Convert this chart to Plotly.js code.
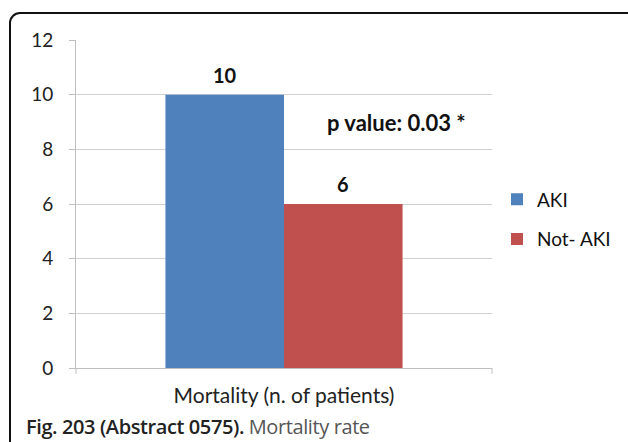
<!DOCTYPE html>
<html><head><meta charset="utf-8">
<script src="https://cdn.plot.ly/plotly-3.0.1.min.js"></script>
<style>
html,body{margin:0;padding:0;background:#fff;}
#wrap{position:relative;width:628px;height:442px;overflow:hidden;}
#chart{width:628px;height:442px;}
#frame{position:absolute;left:9px;top:12px;width:700px;height:500px;border:2px solid #111;border-radius:11px;pointer-events:none;box-sizing:border-box;}
#cap{position:absolute;left:26px;top:413px;font-family:"Open Sans",sans-serif;font-size:20px;color:#555;white-space:nowrap;letter-spacing:-0.4px;}
#cap b{color:#222;font-weight:600;}
</style></head>
<body><div id="wrap"><div id="chart"></div><div id="frame"></div>
<div id="cap"><b>Fig. 203 (Abstract 0575).</b> Mortality rate</div></div>
<script>
var categories = ["Mortality (n. of patients)"];
var seriesNames = ["AKI", "Not- AKI"];
var akiValues = [10];
var notAkiValues = [6];
var yTicks = [0, 2, 4, 6, 8, 10, 12];
var pValueText = "p value: 0.03 *";

var font = "Lato, 'Open Sans', sans-serif";
var traces = [
  {type:"bar", name:seriesNames[0], x:categories, y:akiValues, marker:{color:"#4F81BD"}, legendgroup:"a", hoverinfo:"none"},
  {type:"bar", name:seriesNames[1], x:categories, y:notAkiValues, marker:{color:"#C0504D"}, legendgroup:"b", hoverinfo:"none"}
];
var annotations = [];
[akiValues, notAkiValues].forEach(function(vals, i){
  vals.forEach(function(v, j){
    annotations.push({x:categories[j], y:v, xref:"x", yref:"y", text:"<b>"+v+"</b>", showarrow:false,
      xshift:(i===0?-59:59), yshift:20, font:{family:font, size:20, color:"#111"}});
  });
});
annotations.push({x:categories[0], y:akiValues[0], xref:"x", yref:"y", text:"<b>"+pValueText+"</b>", showarrow:false,
  xshift:112, yshift:-28, font:{family:font, size:22, color:"#111"}});

var layout = {
  width:628, height:442,
  margin:{l:76, r:136, t:40, b:74, autoexpand:false},
  paper_bgcolor:"rgba(0,0,0,0)", plot_bgcolor:"#fff",
  barmode:"group", bargap:0.43, bargroupgap:0,
  font:{family:font, size:18, color:"#222"},
  xaxis:{type:"category", showgrid:false, showline:true, linecolor:"#bfbfbf", linewidth:1, automargin:false,
    ticks:"", tickfont:{family:font, size:21, color:"#222"}, fixedrange:true, ticklabelstandoff:9},
  yaxis:{range:[0,12], tickvals:yTicks, showgrid:true, gridcolor:"#d0d0d0", gridwidth:1, automargin:false,
    showline:true, linecolor:"#bfbfbf", ticks:"outside", ticklen:6, tickcolor:"#bfbfbf",
    tickfont:{family:font, size:19, color:"#222"}, zeroline:false, fixedrange:true, ticklabelstandoff:12},
  shapes:[
    {type:"line", xref:"paper", yref:"paper", x0:0, x1:0, y0:0, y1:-0.018, line:{color:"#bfbfbf", width:1}},
    {type:"line", xref:"paper", yref:"paper", x0:1, x1:1, y0:0, y1:-0.018, line:{color:"#bfbfbf", width:1}}
  ],
  legend:{x:1.012, xanchor:"left", y:0.453, yanchor:"middle", traceorder:"grouped", tracegroupgap:12,
    font:{family:font, size:19, color:"#111"}, itemwidth:30},
  annotations:annotations,
  showlegend:true
};
Plotly.newPlot("chart", traces, layout, {displayModeBar:false, staticPlot:true});
</script></body></html>
